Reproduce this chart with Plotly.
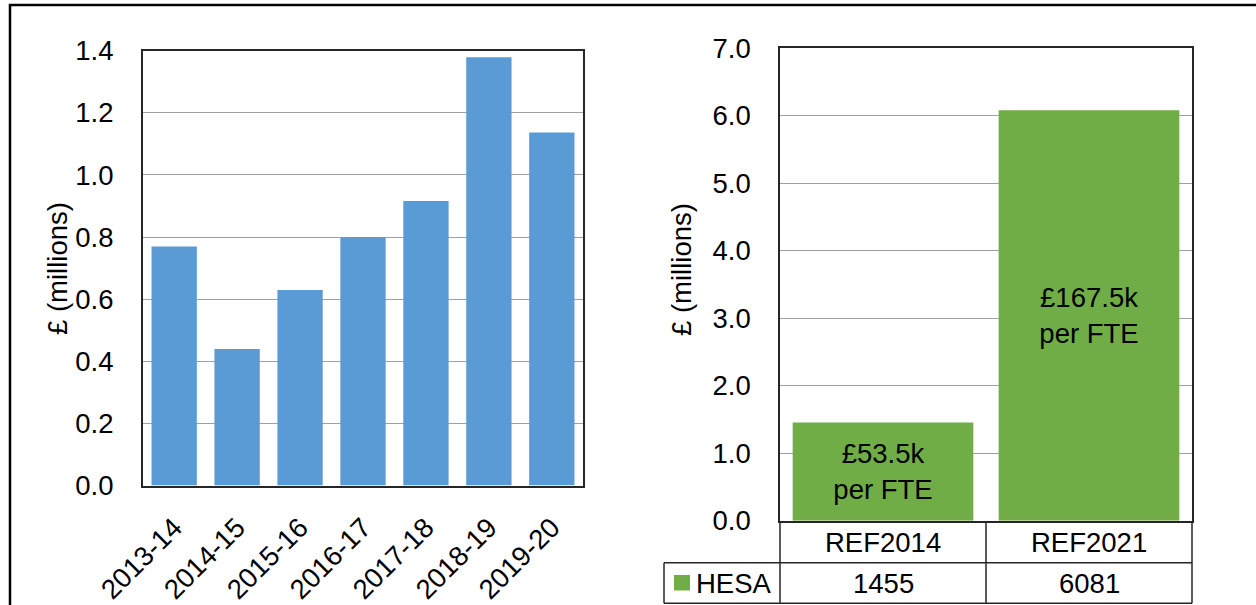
import plotly.graph_objects as go

# ---------------- data ----------------
years = ["2013-14", "2014-15", "2015-16", "2016-17", "2017-18", "2018-19", "2019-20"]
income_millions = [0.77, 0.44, 0.63, 0.80, 0.916, 1.379, 1.137]
left_ticks = [0.0, 0.2, 0.4, 0.6, 0.8, 1.0, 1.2, 1.4]

ref_exercises = ["REF2014", "REF2021"]
hesa_thousands = [1455, 6081]
per_fte_labels = ["£53.5k<br>per FTE", "£167.5k<br>per FTE"]
right_ticks = [0, 1, 2, 3, 4, 5, 6, 7]
series_name = "HESA"

# ---------------- layout helpers ----------------
W, H = 1256, 605
FONT = "Liberation Sans, Arial, sans-serif"
FS = 27.5
BLUE = "#5B9BD5"
GREEN = "#70AD47"
GRID = "#A0A0A0"
LINE = "#262626"


def px(x):
    return x / W


def py(y):
    return 1 - y / H


fig = go.Figure()

fig.add_trace(go.Bar(
    x=years, y=income_millions, marker=dict(color=BLUE, line=dict(width=0)),
    xaxis="x", yaxis="y", showlegend=False, hoverinfo="x+y",
))

fig.add_trace(go.Bar(
    x=ref_exercises, y=[v / 1000 for v in hesa_thousands],
    marker=dict(color=GREEN, line=dict(width=0)),
    text=per_fte_labels, textposition="inside", insidetextanchor="middle",
    textangle=0, constraintext="none",
    insidetextfont=dict(family=FONT, size=FS, color="black"),
    xaxis="x2", yaxis="y2", showlegend=False, name=series_name,
    width=0.877,
))

axis_font = dict(family=FONT, size=FS, color="black")

fig.update_layout(
    width=W, height=H,
    margin=dict(l=0, r=0, t=0, b=0),
    paper_bgcolor="white", plot_bgcolor="white",
    font=dict(family=FONT, size=FS, color="black"),
    bargap=0.28,
    xaxis=dict(
        domain=[px(142.7), px(583.3)], anchor="y",
        tickangle=-45, tickfont=axis_font, showgrid=False,
        showline=True, linecolor=LINE, linewidth=1.5, mirror=True,
        ticks="", ticklabelstandoff=13, automargin=False, fixedrange=True,
    ),
    yaxis=dict(
        domain=[py(485.6), py(50.7)], anchor="x",
        range=[0, 1.4], tickvals=left_ticks,
        ticktext=[f"{v:.1f}" for v in left_ticks],
        tickfont=axis_font, showgrid=True, gridcolor=GRID, gridwidth=1.4,
        showline=True, linecolor=LINE, linewidth=1.5, mirror=True,
        zeroline=False, ticks="", ticklabelstandoff=22,
        automargin=False, fixedrange=True,
    ),
    xaxis2=dict(
        domain=[px(780), px(1192)], anchor="y2",
        showticklabels=False, showgrid=False,
        showline=True, linecolor=LINE, linewidth=1.5, mirror=True,
        ticks="", automargin=False, fixedrange=True,
    ),
    yaxis2=dict(
        domain=[py(520.8), py(48.3)], anchor="x2",
        range=[0, 7], tickvals=right_ticks,
        ticktext=[f"{v:.1f}" for v in right_ticks],
        tickfont=axis_font, showgrid=True, gridcolor=GRID, gridwidth=1.4,
        showline=True, linecolor=LINE, linewidth=1.5, mirror=True,
        zeroline=False, ticks="", ticklabelstandoff=22,
        automargin=False, fixedrange=True,
    ),
)

shapes = []
# outer frame of the whole picture
shapes.append(dict(type="rect", xref="paper", yref="paper",
                   x0=px(10), x1=px(1266), y0=py(615), y1=py(5),
                   line=dict(color="black", width=2.5), fillcolor="rgba(0,0,0,0)",
                   layer="above"))


def hline(x0, x1, y):
    shapes.append(dict(type="line", xref="paper", yref="paper",
                       x0=px(x0), x1=px(x1), y0=py(y), y1=py(y),
                       line=dict(color=LINE, width=1.5)))


def vline(x, y0, y1):
    shapes.append(dict(type="line", xref="paper", yref="paper",
                       x0=px(x), x1=px(x), y0=py(y0), y1=py(y1),
                       line=dict(color=LINE, width=1.5)))


# data table under the right chart
hline(664, 1192, 562.7)
hline(664, 1192, 603.3)
vline(664, 562.7, 603.3)
vline(780, 521, 603.3)
vline(986, 521, 603.3)
vline(1192, 521, 603.3)
# legend key
shapes.append(dict(type="rect", xref="paper", yref="paper",
                   x0=px(674), x1=px(690), y0=py(590.5), y1=py(575),
                   line=dict(width=0), fillcolor=GREEN))
fig.update_layout(shapes=shapes)

annotations = []
# axis titles
annotations.append(dict(text="£ (millions)", xref="paper", yref="paper",
                        x=px(58), y=py(268), textangle=-90, showarrow=False,
                        font=axis_font, xanchor="center", yanchor="middle"))
annotations.append(dict(text="£ (millions)", xref="paper", yref="paper",
                        x=px(681), y=py(270), textangle=-90, showarrow=False,
                        font=axis_font, xanchor="center", yanchor="middle"))
# table contents
for cat, val in zip(ref_exercises, hesa_thousands):
    annotations.append(dict(text=cat, xref="x2", yref="paper", x=cat, y=py(542.5),
                            showarrow=False, font=axis_font,
                            xanchor="center", yanchor="middle"))
    annotations.append(dict(text=str(val), xref="x2", yref="paper", x=cat, y=py(583.5),
                            showarrow=False, font=axis_font,
                            xanchor="center", yanchor="middle"))
annotations.append(dict(text=series_name, xref="paper", yref="paper",
                        x=px(694), y=py(583.5), showarrow=False, font=axis_font,
                        xanchor="left", yanchor="middle"))
fig.update_layout(annotations=annotations)

fig.write_html("out.html")
